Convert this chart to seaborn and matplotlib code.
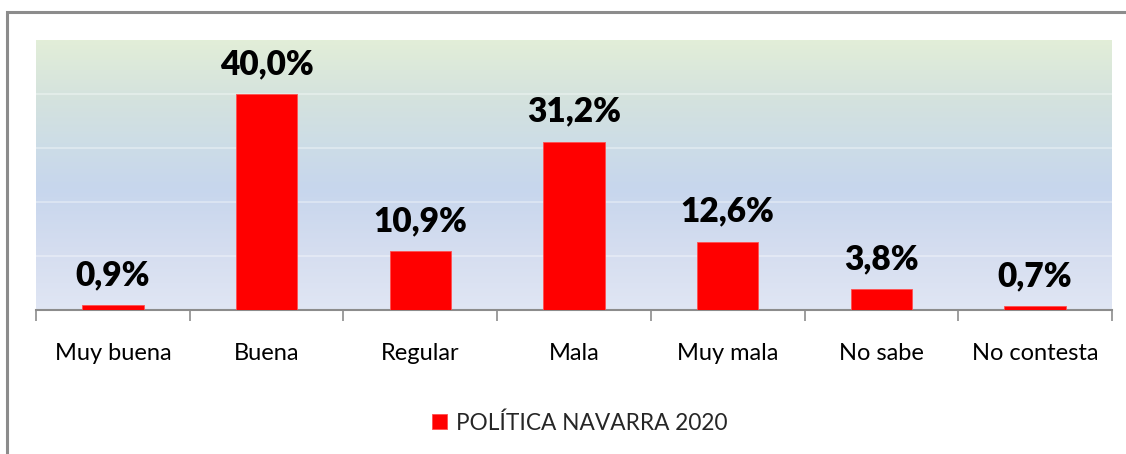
import numpy as np
import pandas as pd
import matplotlib
matplotlib.use("Agg")
import matplotlib.pyplot as plt
import seaborn as sns
from matplotlib.colors import LinearSegmentedColormap
from matplotlib.patches import Rectangle

categories = ["Muy buena", "Buena", "Regular", "Mala", "Muy mala", "No sabe", "No contesta"]
values = [0.9, 40.0, 10.9, 31.2, 12.6, 3.8, 0.7]
value_labels = ["0,9%", "40,0%", "10,9%", "31,2%", "12,6%", "3,8%", "0,7%"]
series_name = "POLÍTICA NAVARRA 2020"

sns.set_theme(style="white")
plt.rcParams['font.family'] = ['Lato', 'DejaVu Sans']

df = pd.DataFrame({"cat": categories, "val": values, "serie": [series_name] * len(categories)})

W, H = 1126, 454
fig = plt.figure(figsize=(W / 100, H / 100), dpi=100)
ax = fig.add_axes([36 / W, 1 - 310 / H, (1112 - 36) / W, (310 - 40) / H])

# outer chart border
fig.patches.append(Rectangle((7 / W, 1 - 460 / H), (1140 - 7) / W, (460 - 12) / H,
                             transform=fig.transFigure, fill=False,
                             edgecolor="#8c8c8c", linewidth=2.2, zorder=0))

sns.barplot(data=df, x="cat", y="val", hue="serie", palette=["#ff0000"],
            width=0.4, ax=ax, zorder=3, saturation=1, legend=True,
            edgecolor="#ff5050", linewidth=0.6)

ax.set_ylim(0, 50)
ax.set_xlim(-0.5, len(categories) - 0.5)

# gradient background
cmap = LinearSegmentedColormap.from_list("bg", [
    (0.0, "#e0e6f4"),
    (0.2, "#d6def0"),
    (0.45, "#c7d6ed"),
    (0.62, "#cddde6"),
    (0.78, "#d4e2de"),
    (1.0, "#e2eed8"),
])
grad = np.linspace(0, 1, 256).reshape(-1, 1)
ax.imshow(grad, aspect="auto", cmap=cmap, origin="lower",
          extent=[-0.5, len(categories) - 0.5, 0, 50], zorder=0)

for yv in [10, 20, 30, 40]:
    ax.axhline(yv, color="#ffffff", alpha=0.4, linewidth=1.2, zorder=1)

for i, (v, lab) in enumerate(zip(values, value_labels)):
    ax.annotate(lab, (i, v), xytext=(0, 14.5), textcoords="offset points",
                ha="center", va="baseline", fontsize=24, fontweight="heavy",
                color="#000000", zorder=5)

for s in ["top", "right", "left"]:
    ax.spines[s].set_visible(False)
ax.spines["bottom"].set_color("#8c8c8c")
ax.spines["bottom"].set_linewidth(1.5)

ax.set_yticks([])
ax.set_xticks(range(len(categories)))
ax.set_xticklabels(categories, fontsize=17, color="#000000")
ax.tick_params(axis="x", which="major", length=0, pad=24)
ax.set_xticks(np.arange(-0.5, len(categories), 1.0), minor=True)
ax.tick_params(axis="x", which="minor", length=8, width=1.2, color="#8c8c8c", bottom=True)
ax.set_xlabel("")
ax.set_ylabel("")

leg = ax.legend(loc="center", bbox_to_anchor=(580 / W, 1 - 423 / H),
                bbox_transform=fig.transFigure, frameon=False, fontsize=16.3,
                handlelength=0.65, handleheight=0.65, handletextpad=0.4)

fig.savefig("out.png", dpi=100, facecolor="white")
